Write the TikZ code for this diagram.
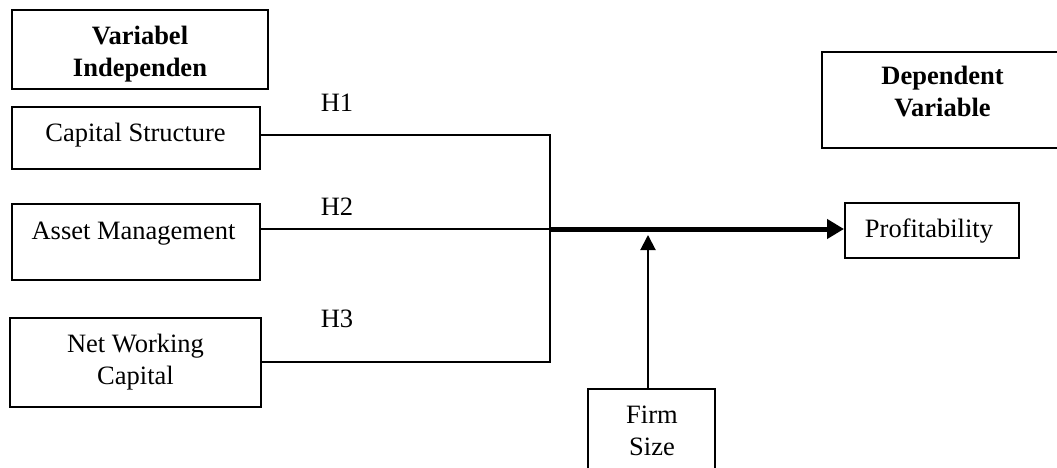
\documentclass[tikz,border=0pt]{standalone}
\usepackage{fontspec}
\setmainfont{Liberation Serif}
\usetikzlibrary{arrows.meta}
\tikzset{
  box/.style={draw, line width=2pt, inner sep=0pt, rectangle},
  txt/.style={inner sep=0pt, anchor=base, font=\fontsize{26.5}{32}\selectfont},
  btxt/.style={txt, font=\fontsize{26.5}{32}\selectfont\bfseries},
  conn/.style={line width=2pt},
  mainarrow/.style={line width=5pt, -{Triangle[length=17pt,width=19pt]}},
  modarrow/.style={line width=2pt, -{Triangle[length=15pt,width=15pt]}}
}
\newcommand{\twoline}[2]{\begin{tabular}[t]{@{}c@{}}#1\\#2\end{tabular}}
\begin{document}
\begin{tikzpicture}[x=1pt,y=-1pt]
\useasboundingbox (0,0) rectangle (1057,468);
\clip (0,0) rectangle (1057,468);
% boxes
\node[box, minimum width=256pt, minimum height=79pt] (vi) at (140,49.5) {};
\node[box, minimum width=248pt, minimum height=62pt] (cs) at (136,138) {};
\node[box, minimum width=248pt, minimum height=76pt] (am) at (136,242) {};
\node[box, minimum width=251pt, minimum height=89pt] (nwc) at (135.5,362.5) {};
\node[box, minimum width=250pt, minimum height=96pt] (dv) at (947,100) {};
\node[box, minimum width=174pt, minimum height=55pt] (pr) at (932,230.5) {};
\node[box, minimum width=127pt, minimum height=100pt] (fs) at (651.5,439) {};
% texts
\node[btxt] (tvi) at (140,45) {\twoline{Variabel}{Independen}};
\node[txt] (tcs) at (135.5,142) {Capital Structure};
\node[txt] (tam) at (133.5,239) {Asset Management};
\node[txt] (tnwc) at (135.5,352) {\twoline{Net Working}{Capital}};
\node[btxt] (tdv) at (942.5,85) {\twoline{Dependent}{Variable}};
\node[txt] (tpr) at (929,237) {Profitability};
\node[txt] (tfs) at (652,423) {\twoline{Firm}{Size}};
\node[txt] (h1) at (337,112) {H1};
\node[txt] (h2) at (337,215) {H2};
\node[txt] (h3) at (337,327) {H3};
% junction coordinates
\coordinate (jt) at (550,135);
\coordinate (jm) at (550,229);
\coordinate (jb) at (550,362);
\coordinate (fsTop) at (648,389);
\coordinate (fsTip) at (648,235);
% connectors
\draw[conn] (cs.east |- jt) -- (jt) -- (jb) -- (nwc.east |- jb);
\draw[line width=2.5pt] (am.east |- jm) -- (jm);
\draw[mainarrow] (jm) -- (pr.west |- jm);
\draw[modarrow] (fsTop) -- (fsTip);
\end{tikzpicture}
\end{document}
